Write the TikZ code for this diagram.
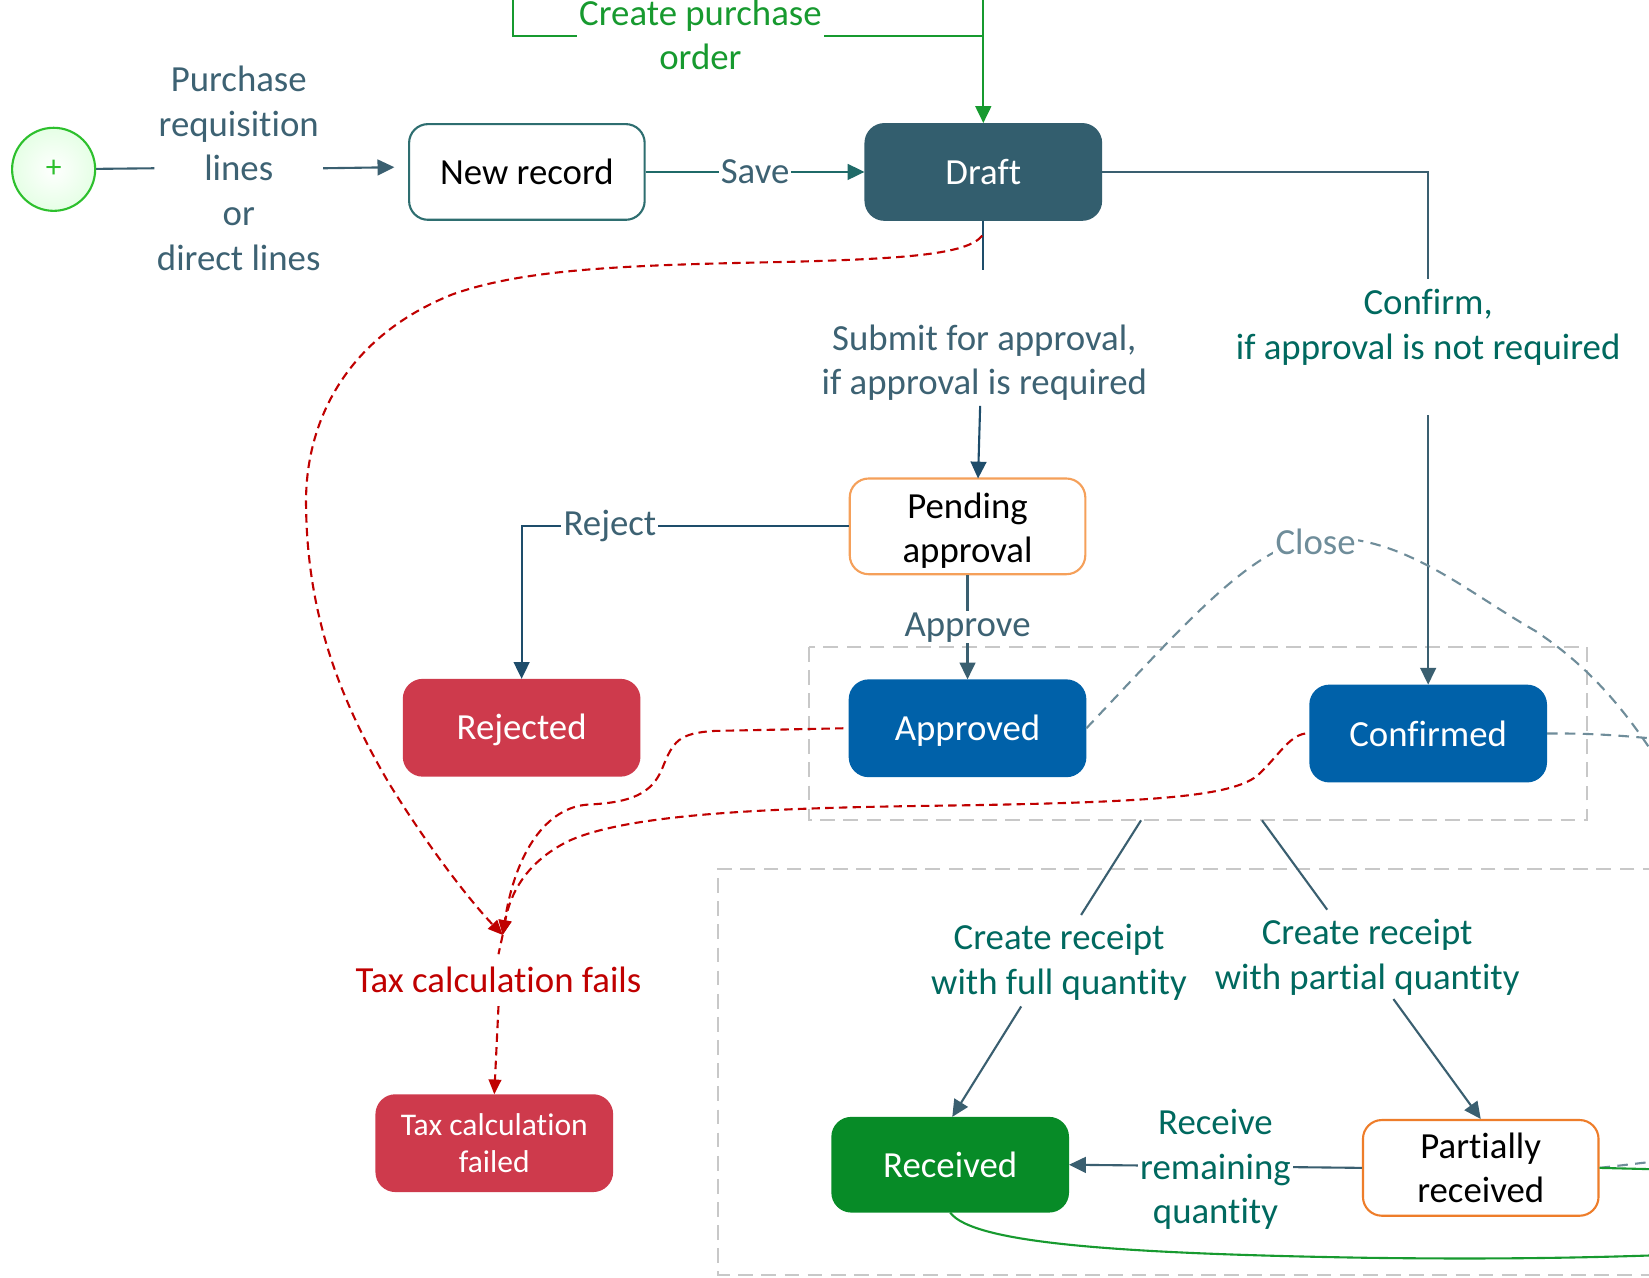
\documentclass[tikz,border=0pt]{standalone}
\usepackage{fontspec}
\setmainfont[Ligatures=NoCommon]{Carlito}
\usetikzlibrary{arrows.meta}
\definecolor{draftfill}{HTML}{335E6E}
\definecolor{newrecline}{HTML}{2E6E70}
\definecolor{pendorange}{HTML}{F5A05A}
\definecolor{partorange}{HTML}{EE7D2A}
\definecolor{bluebox}{HTML}{0061A9}
\definecolor{redbox}{HTML}{CE3A4C}
\definecolor{greenbox}{HTML}{078B27}
\definecolor{slateln}{HTML}{3A5F70}
\definecolor{darkln}{HTML}{1E4D6B}
\definecolor{saveln}{HTML}{1F6A68}
\definecolor{labslate}{HTML}{3D6273}
\definecolor{labteal}{HTML}{00695F}
\definecolor{cpgreen}{HTML}{179A2F}
\definecolor{reddash}{HTML}{C00000}
\definecolor{closegray}{HTML}{6F8D9A}
\definecolor{grpgray}{HTML}{C8C8C8}
\definecolor{startgreen}{HTML}{2DC02D}
\newcommand\fsmain{\fontsize{17.5pt}{21.25pt}\selectfont}
\newcommand\fssmall{\fontsize{15pt}{18pt}\selectfont}
\tikzset{
  statebox/.style={rounded corners=9pt, minimum width=112pt, minimum height=45.5pt,
    align=center, font=\fsmain, line width=1pt, inner sep=2pt},
  lbl/.style={font=\fsmain, align=center, inner sep=1pt},
  arr/.style={-{Triangle[length=8pt,width=7.5pt]}},
  rarr/.style={-{Triangle[length=7pt,width=6pt]}},
  slatecon/.style={draw=slateln, line width=1pt},
  darkcon/.style={draw=darkln, line width=1pt},
  gcon/.style={draw=cpgreen, line width=1pt},
  redcon/.style={draw=reddash, line width=1pt, dash pattern=on 4pt off 2.5pt},
  closecon/.style={draw=closegray, line width=1pt, dash pattern=on 5pt off 3.5pt},
  grpbox/.style={draw=grpgray, line width=1pt, dash pattern=on 7pt off 4pt},
}
\begin{document}
\begin{tikzpicture}[x=0.5pt,y=-0.5pt]
\useasboundingbox (0,0) rectangle (1568,1215);
\fill[white] (0,0) rectangle (1568,1215);

% group frames
\draw[grpbox] (769,615) rectangle (1509,780);
\draw[grpbox] (1620,826) -- (683,826) -- (683,1212) -- (1620,1212);

% nodes
\node[circle, minimum size=39.5pt, draw=startgreen, line width=1pt, inner color=white,
  outer color=green!10!white, text=startgreen, font=\fontsize{15pt}{15pt}\selectfont] (start) at (51,161) {+};
\node[lbl, text=labslate] (prl) at (227,160) {Purchase\\requisition\\lines\\or\\direct lines};
\node[statebox, draw=newrecline, fill=white, text=black] (newrec) at (501,163.5) {New record};
\node[statebox, draw=draftfill, fill=draftfill, text=white] (draft) at (935,163.5) {Draft};
\node[statebox, draw=pendorange, fill=white, text=black] (pending) at (920,500.5) {\raisebox{-2pt}[\height][\depth]{\parbox{100pt}{\centering Pending\\approval}}};
\node[statebox, draw=redbox, fill=redbox, text=white] (rejected) at (496,692) {\raisebox{-1pt}[\height][\depth]{Rejected}};
\node[statebox, draw=bluebox, fill=bluebox, text=white] (approved) at (920,692.5) {\raisebox{-1pt}[\height][\depth]{Approved}};
\node[statebox, draw=bluebox, fill=bluebox, text=white] (confirmed) at (1358,697.5) {Confirmed};
\node[statebox, draw=redbox, fill=redbox, text=white, font=\fssmall] (taxfailed) at (470,1087) {Tax calculation\\failed};
\node[statebox, draw=greenbox, fill=greenbox, text=white, minimum height=44.5pt] (received) at (903.5,1107.5) {Received};
\node[statebox, draw=partorange, fill=white, text=black] (partial) at (1408,1110.5) {\parbox{100pt}{\centering Partially\\received}};

% start -> new record
\coordinate (nrin) at (375,159);
\draw[slatecon] (start) -- (prl.west);
\draw[slatecon, arr] (prl.east) -- (nrin);

% save
\draw[draw=saveln, line width=1pt, arr] (newrec.east) -- node[lbl, fill=white, text=labslate] {Save} (draft.west);

% create purchase order
\coordinate (cpL) at (488,-10);
\coordinate (cpR) at (935,-10);
\coordinate (cpJ) at (935,34);
\draw[gcon] (cpL) |- (cpJ);
\draw[gcon, arr] (cpR) -- (draft.north);
\node[lbl, text=cpgreen, fill=white] (cpo) at (666,33) {Create purchase\\order};

% confirm
\node[lbl, text=labteal] (cfl) at (1358,311) {Confirm,\\if approval is not required};
\coordinate (cf1) at (1358,265);
\coordinate (cf2) at (1358,395);
\draw[slatecon] (draft.east) -| (cf1);
\draw[slatecon, arr] (cf2) -- (confirmed.north);

% submit
\node[lbl, text=labslate] (sbl) at (936,345) {Submit for approval,\\if approval is required};
\coordinate (sb1) at (935,257);
\coordinate (sb2) at (932,386);
\coordinate (sb3) at (930,455);
\draw[darkcon] (draft.south) -- (sb1);
\draw[darkcon, arr] (sb2) -- (sb3);

% reject / approve
\draw[darkcon, arr] (pending.west) -| node[pos=0.365, lbl, fill=white, text=labslate] {Reject} (rejected.north);
\draw[slatecon, arr] (pending.south) -- node[lbl, fill=white, text=labslate, inner sep=0.5pt] {Approve} (approved.north);

% close
\draw[closecon] (approved.east) .. controls (1130,590) and (1190,520) .. (1250,512)
  .. controls (1330,505) and (1390,560) .. (1460,600)
  .. controls (1520,640) and (1560,690) .. (1610,780);
\node[lbl, text=closegray, fill=white] (closel) at (1251,515) {Close};
\draw[closecon] (confirmed.east) .. controls (1520,697) and (1550,700) .. (1620,707);
\draw[closecon] (partial.east) -- (1620,1099);

% red dashed (tax)
\coordinate (tj) at (478,889);
\coordinate (rd0) at (934,224);
\node[lbl, text=reddash, inner ysep=6pt] (taxlbl) at (474,932) {Tax calculation fails};
\draw[redcon, rarr] (rd0) .. controls (920,242) and (860,246) .. (750,249)
  .. controls (600,252) and (500,255) .. (430,280)
  .. controls (330,320) and (290,400) .. (291,480)
  .. controls (292,580) and (320,660) .. (370,745)
  .. controls (410,810) and (450,860) .. (tj);
\draw[redcon, rarr] ([xshift=-2.5pt]approved.west) -- (680,695)
  .. controls (645,697) and (640,705) .. (630,730)
  .. controls (620,755) and (600,763) .. (560,765)
  .. controls (520,767) and (490,810) .. (tj);
\draw[redcon, rarr] ([xshift=-2pt]confirmed.west) .. controls (1225,700) and (1215,720) .. (1195,738)
  .. controls (1170,757) and (1100,763) .. (900,766)
  .. controls (750,768) and (600,772) .. (540,800)
  .. controls (500,820) and (485,850) .. (tj);
\draw[redcon] (tj) -- (taxlbl.north);
\draw[redcon, rarr] (taxlbl.south) -- (taxfailed.north);

% receipts
\node[lbl, text=labteal] (crf) at (1007,915) {Create receipt\\with full quantity};
\node[lbl, text=labteal] (crp) at (1300,910) {Create receipt\\with partial quantity};
\coordinate (cr1a) at (1085,780);
\coordinate (cr1b) at (1028,870);
\coordinate (cr1c) at (971,957);
\coordinate (cr2a) at (1200,780);
\coordinate (cr2b) at (1262,865);
\coordinate (cr2c) at (1325,950);
\draw[slatecon] (cr1a) -- (cr1b);
\draw[slatecon, arr] (cr1c) -- ([xshift=1pt]received.north);
\draw[slatecon] (cr2a) -- (cr2b);
\draw[slatecon, arr] (cr2c) -- (partial.north);

% receive remaining
\draw[slatecon, arr] (partial.west) -- node[lbl, fill=white, text=labteal, yshift=-1.5pt] {Receive\\remaining\\quantity} (received.east);

% green flows
\draw[gcon] (received.south) .. controls (925,1182) and (1060,1192) .. (1300,1196)
  .. controls (1450,1198) and (1540,1195) .. (1620,1192);
\draw[gcon] (partial.east) -- (1620,1113);
\end{tikzpicture}
\end{document}
